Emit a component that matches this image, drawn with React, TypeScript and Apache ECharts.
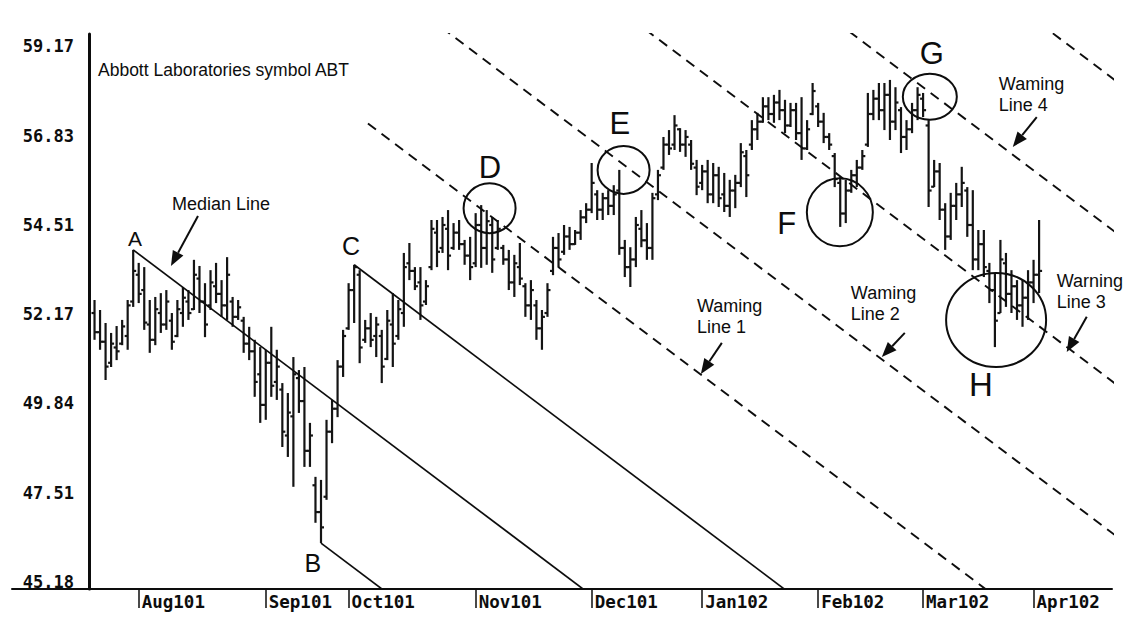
import React, { useEffect, useRef } from "react";
import * as echarts from "echarts";

// ---------- axis ticks ----------
const monthTickIndex = [9, 32, 47, 70, 91, 111, 132, 151, 171];
const monthLabels = ["Aug101", "Sep101", "Oct101", "Nov101", "Dec101", "Jan102", "Feb102", "Mar102", "Apr102"];
const priceTicks = [45.18, 47.51, 49.84, 52.17, 54.51, 56.83, 59.17];

// ---------- daily OHLC (trading day 1..172) ----------
const opens = [
  52.2, 51.7, 51.45, 50.9, 51.3, 51.4, 51.6, 52.5, 53.2, 52.8,
  51.9, 51.5, 52.2, 51.9, 52.0, 51.6, 52.2, 52.5, 52.3, 53.1,
  52.5, 52.4, 52.9, 52.7, 52.4, 52.5, 52.1, 52.0, 51.4, 51.2,
  50.6, 49.8, 50.9, 50.4, 50.2, 49.0, 49.5, 50.5, 49.9, 48.6,
  47.7, 47.0, 47.4, 49.1, 49.7, 50.8, 51.8, 52.8, 53.2, 51.5,
  51.8, 51.6, 51.6, 51.0, 51.9, 51.6, 52.2, 53.5, 53.3, 53.0,
  52.5, 53.4, 54.3, 53.9, 54.4, 53.9, 54.3, 54.0, 53.7, 53.5,
  54.5, 53.9, 54.5, 53.9, 53.9, 53.6, 53.0, 53.4, 52.9, 52.4,
  52.4, 51.8, 52.2, 53.3, 53.9, 53.8, 54.2, 54.0, 54.3, 54.7,
  54.9, 55.3, 54.9, 55.2, 55.0, 55.4, 53.9, 53.4, 53.6, 54.4,
  54.1, 53.9, 55.3, 56.0, 56.6, 56.6, 57.0, 56.6, 56.6, 56.0,
  55.6, 55.9, 55.3, 55.8, 55.3, 55.0, 55.4, 55.6, 56.3, 56.6,
  57.0, 57.2, 57.6, 57.4, 57.7, 57.5, 57.1, 57.5, 56.9, 56.5,
  57.4, 57.6, 57.2, 56.8, 56.3, 55.6, 54.8, 55.4, 55.8, 56.0,
  56.6, 57.4, 57.8, 57.5, 57.9, 57.2, 57.5, 56.8, 57.0, 57.5,
  57.8, 57.1, 55.5, 55.9, 54.9, 54.2, 55.0, 55.3, 55.4, 54.5,
  53.6, 54.0, 53.3, 52.8, 52.2, 53.5, 52.7, 52.9, 52.4, 52.6,
  53.0, 53.2,
];
const highs = [
  52.54, 52.28, 51.94, 51.68, 51.86, 52.02, 52.54, 53.85, 53.51, 53.4,
  52.54, 52.62, 52.72, 52.8, 52.2, 52.54, 52.88, 52.8, 53.59, 53.43,
  52.98, 53.32, 53.51, 53.06, 53.66, 52.62, 52.54, 52.1, 51.84, 51.5,
  51.31, 51.24, 51.84, 51.24, 50.37, 50.11, 51.05, 50.71, 50.79, 49.33,
  47.92, 47.84, 49.41, 49.93, 50.97, 51.76, 52.98, 53.46, 53.32, 52.02,
  52.2, 52.1, 51.76, 52.28, 52.72, 52.54, 53.77, 54.03, 53.4, 53.4,
  53.06, 54.63, 54.63, 54.71, 54.89, 54.55, 54.63, 54.11, 54.19, 54.81,
  55.02, 54.89, 54.71, 54.63, 53.98, 53.85, 53.72, 54.03, 52.98, 53.06,
  52.54, 52.28, 52.98, 54.19, 54.29, 54.5, 54.45, 54.37, 54.89, 55.07,
  56.12, 55.41, 55.34, 55.41, 55.54, 55.94, 54.11, 53.92, 54.71, 54.89,
  54.55, 55.34, 55.94, 56.8, 56.98, 57.37, 57.03, 56.98, 56.72, 56.2,
  56.07, 56.2, 56.12, 56.02, 55.86, 55.68, 55.81, 56.64, 56.46, 57.24,
  57.43, 57.84, 57.84, 57.9, 58.03, 57.77, 57.69, 57.69, 57.84, 57.24,
  58.21, 57.69, 57.43, 56.9, 56.38, 55.75, 55.68, 55.94, 56.2, 56.46,
  57.95, 58.03, 58.21, 58.21, 58.29, 58.1, 57.58, 57.24, 57.69, 58.1,
  57.95, 57.24, 56.2, 56.12, 55.07, 55.34, 55.6, 56.02, 55.49, 55.41,
  54.37, 54.37, 53.51, 53.25, 54.11, 53.77, 53.32, 53.06, 53.06, 53.32,
  53.59, 54.63,
];
const lows = [
  51.5, 51.24, 50.45, 50.79, 50.97, 51.36, 51.24, 52.36, 52.46, 51.76,
  51.16, 51.36, 51.68, 51.76, 51.24, 51.57, 51.84, 52.02, 52.28, 52.2,
  51.57, 52.28, 52.46, 52.1, 52.02, 51.84, 52.02, 51.16, 50.97, 50.01,
  49.33, 49.41, 50.01, 49.93, 48.7, 48.44, 47.66, 49.59, 48.18, 48.18,
  46.72, 46.19, 47.32, 48.8, 49.48, 50.53, 51.76, 51.94, 50.89, 51.42,
  51.31, 51.05, 50.37, 50.97, 50.79, 51.5, 51.84, 53.06, 52.8, 52.02,
  52.41, 53.32, 53.4, 53.77, 53.32, 53.85, 53.85, 53.46, 53.06, 53.4,
  53.38, 53.46, 53.25, 53.85, 53.46, 52.8, 52.62, 52.93, 52.1, 52.02,
  51.5, 51.24, 52.1, 53.19, 53.4, 53.72, 53.85, 53.98, 54.11, 54.55,
  54.81, 54.63, 54.63, 54.76, 54.76, 53.72, 53.14, 52.88, 53.4, 53.92,
  53.59, 53.59, 55.15, 55.94, 56.33, 56.46, 56.41, 56.28, 55.94, 55.28,
  55.41, 55.07, 55.07, 54.97, 54.84, 54.71, 54.94, 55.49, 55.23, 56.46,
  56.72, 57.17, 57.24, 57.17, 57.24, 56.9, 57.06, 56.72, 56.2, 56.46,
  57.37, 57.06, 56.64, 56.46, 55.49, 54.45, 54.55, 55.34, 55.49, 55.94,
  56.54, 57.24, 57.24, 56.98, 56.72, 56.98, 56.38, 56.46, 56.9, 57.24,
  57.32, 54.97, 55.49, 54.63, 53.85, 54.11, 54.63, 54.97, 54.19, 53.32,
  53.32, 53.14, 52.46, 51.31, 52.2, 52.36, 52.2, 52.02, 51.84, 52.02,
  52.46, 52.72,
];
const closes = [
  51.7, 51.45, 50.8, 51.4, 51.2, 51.85, 52.4, 53.3, 52.7, 51.95,
  51.5, 52.3, 51.9, 52.5, 51.45, 52.3, 52.6, 52.2, 53.2, 52.5,
  51.9, 53.0, 52.7, 52.4, 53.2, 52.1, 52.35, 51.4, 51.2, 50.4,
  49.8, 50.9, 50.3, 50.8, 49.1, 49.6, 50.6, 49.9, 48.6, 49.0,
  47.0, 46.6, 49.1, 49.7, 50.8, 51.6, 52.8, 53.4, 51.3, 51.8,
  51.5, 51.9, 50.8, 52.0, 51.4, 52.3, 53.4, 53.3, 52.9, 52.4,
  52.9, 54.4, 53.8, 54.5, 53.7, 54.3, 54.0, 53.7, 53.4, 54.5,
  53.9, 54.6, 53.6, 54.4, 53.6, 53.0, 53.5, 53.1, 52.4, 52.8,
  51.8, 52.1, 52.8, 53.9, 53.6, 54.2, 54.0, 54.3, 54.7, 54.9,
  55.6, 54.9, 55.2, 55.0, 55.3, 53.9, 53.4, 53.6, 54.5, 54.1,
  53.9, 55.2, 55.8, 56.6, 56.5, 57.1, 56.6, 56.8, 56.1, 55.5,
  55.9, 55.3, 55.8, 55.2, 55.0, 55.4, 55.6, 56.4, 55.8, 57.0,
  57.2, 57.6, 57.4, 57.7, 57.5, 57.1, 57.5, 56.9, 56.5, 57.0,
  58.0, 57.2, 56.8, 56.6, 55.7, 54.8, 55.4, 55.8, 56.0, 56.3,
  57.4, 57.8, 57.5, 57.9, 57.2, 57.7, 56.8, 57.0, 57.5, 57.9,
  57.5, 55.4, 55.9, 54.9, 54.2, 55.0, 55.3, 55.6, 54.5, 53.6,
  54.0, 53.4, 52.8, 52.0, 53.6, 52.7, 52.9, 52.4, 52.6, 53.0,
  53.2, 53.3,
];

// ---------- pitchfork pivots (trading day, price) ----------
const pivotA = [8, 53.85];
const pivotB = [42, 46.19];
const pivotC = [48, 53.46];
const warningLevels = [2, 3, 4, 5, 6];
const warningStarts = [50.5, 0, 0, 0, 0];

// ---------- annotations (data coordinates) ----------
const circleMarks = [
  { x: 72.52, y: 54.94, rx: 26, ry: 25 },
  { x: 96.78, y: 55.94, rx: 26, ry: 24 },
  { x: 135.93, y: 54.83, rx: 33, ry: 34 },
  { x: 152.22, y: 57.85, rx: 27, ry: 23 },
  { x: 164.22, y: 52.02, rx: 50, ry: 47 },
];
const letterMarks = [
  { t: "A", x: 8.33, y: 54.16, size: 21 },
  { t: "B", x: 40.54, y: 45.67, size: 25 },
  { t: "C", x: 47.42, y: 53.95, size: 25 },
  { t: "D", x: 72.58, y: 55.99, size: 31 },
  { t: "E", x: 96.11, y: 57.14, size: 31 },
  { t: "F", x: 126.33, y: 54.55, size: 31 },
  { t: "G", x: 152.58, y: 58.97, size: 31 },
  { t: "H", x: 161.45, y: 50.32, size: 33 },
];
const noteMarks = [
  { t: "Median Line", x: 15.02, y: 55.31 },
  { t: "Waming\nLine 1", x: 110.05, y: 52.65 },
  { t: "Waming\nLine 2", x: 137.92, y: 53.01 },
  { t: "Warning\nLine 3", x: 175.2, y: 53.3 },
  { t: "Waming\nLine 4", x: 164.71, y: 58.47 },
];
const arrowMarks = [
  [19.73, 54.735, 14.84, 53.43],
  [114.57, 51.42, 110.77, 50.61],
  [147.69, 51.68, 143.53, 51.05],
  [180.63, 52.1, 177.01, 51.18],
  [171.58, 57.32, 167.24, 56.54],
];

const INK = "#0d0d0d";
const SANS = "Liberation Sans, Arial, sans-serif";
const MONO = "DejaVu Sans Mono, monospace";

function buildOption() {
  const ohlc = highs.map((h, k) => [k + 1, opens[k], closes[k], lows[k], h]);

  const midX = (pivotB[0] + pivotC[0]) / 2;
  const midY = (pivotB[1] + pivotC[1]) / 2;
  const slope = (midY - pivotA[1]) / (midX - pivotA[0]);
  const median = (x: number) => pivotA[1] + slope * (x - pivotA[0]);
  const spacing = pivotC[1] - median(pivotC[0]);
  const X_END = 200;
  const seg = (k: number, x0: number) => [
    [x0, median(x0) + k * spacing],
    [X_END, median(X_END) + k * spacing],
  ];

  const fork: any[] = [];
  const solid = [
    { k: 0, x0: pivotA[0] },
    { k: 1, x0: pivotC[0] },
    { k: -1, x0: pivotB[0] },
  ];
  solid.forEach((s) =>
    fork.push({
      type: "line",
      data: seg(s.k, s.x0),
      symbol: "none",
      clip: true,
      silent: true,
      z: 3,
      lineStyle: { color: INK, width: 1.7 },
    })
  );
  warningLevels.forEach((k, j) =>
    fork.push({
      type: "line",
      data: seg(k, warningStarts[j]),
      symbol: "none",
      clip: true,
      silent: true,
      z: 3,
      lineStyle: { color: INK, width: 1.9, type: [10, 7] },
    })
  );

  return {
    animation: false,
    backgroundColor: "#fff",
    title: {
      text: "Abbott Laboratories symbol ABT",
      left: 93,
      top: 56,
      textStyle: { fontFamily: SANS, fontSize: 17.5, fontWeight: "normal", color: INK },
    },
    grid: { left: 12, right: 18, top: 34, bottom: 28, outerBoundsMode: "none" },
    xAxis: {
      type: "value",
      min: -13.94,
      max: 185.2,
      axisLine: { show: true, onZero: false, lineStyle: { color: INK, width: 2 } },
      axisTick: {
        show: true,
        customValues: monthTickIndex,
        length: 19,
        lineStyle: { color: INK, width: 1.5 },
      },
      axisLabel: {
        customValues: monthTickIndex,
        formatter: (v: number) => monthLabels[monthTickIndex.indexOf(v)] ?? "",
        align: "left",
        padding: [0, 0, 0, 3],
        margin: 4,
        fontFamily: MONO,
        fontWeight: "bold",
        fontSize: 17.5,
        color: INK,
      },
      splitLine: { show: false },
    },
    yAxis: {
      type: "value",
      min: 44.99,
      max: 59.49,
      offset: -77,
      axisLine: { show: true, onZero: false, lineStyle: { color: INK, width: 3 } },
      axisTick: { show: false },
      axisLabel: {
        customValues: priceTicks,
        formatter: (v: number) => v.toFixed(2),
        margin: 15,
        fontFamily: MONO,
        fontWeight: "bold",
        fontSize: 17,
        color: INK,
      },
      splitLine: { show: false },
    },
    series: [
      {
        type: "custom",
        name: "ABT",
        data: ohlc,
        encode: { x: 0, y: [1, 2, 3, 4] },
        z: 2,
        silent: true,
        renderItem: (_p: any, api: any) => {
          const x = api.value(0);
          const pH = api.coord([x, api.value(4)]);
          const pL = api.coord([x, api.value(3)]);
          const pO = api.coord([x, api.value(1)]);
          const pC = api.coord([x, api.value(2)]);
          const st = { stroke: "#141414", lineWidth: 2.2 };
          return {
            type: "group",
            children: [
              { type: "line", shape: { x1: pH[0], y1: pH[1], x2: pL[0], y2: pL[1] }, style: st },
              { type: "line", shape: { x1: pO[0] - 3, y1: pO[1], x2: pO[0], y2: pO[1] }, style: st },
              { type: "line", shape: { x1: pC[0], y1: pC[1], x2: pC[0] + 3, y2: pC[1] }, style: st },
            ],
          };
        },
      },
      ...fork,
      {
        type: "custom",
        data: circleMarks.map((c) => [c.x, c.y]),
        z: 4,
        silent: true,
        renderItem: (p: any, api: any) => {
          const c = circleMarks[p.dataIndex];
          const pt = api.coord([api.value(0), api.value(1)]);
          return {
            type: "ellipse",
            shape: { cx: pt[0], cy: pt[1], rx: c.rx, ry: c.ry },
            style: { fill: "none", stroke: INK, lineWidth: 2 },
          };
        },
      },
      {
        type: "custom",
        data: letterMarks.map((m) => [m.x, m.y]),
        z: 4,
        silent: true,
        renderItem: (p: any, api: any) => {
          const m = letterMarks[p.dataIndex];
          const pt = api.coord([api.value(0), api.value(1)]);
          return {
            type: "text",
            x: pt[0],
            y: pt[1],
            style: {
              text: m.t,
              fill: INK,
              fontFamily: SANS,
              fontSize: m.size,
              align: "center",
              verticalAlign: "middle",
            },
          };
        },
      },
      {
        type: "custom",
        data: noteMarks.map((m) => [m.x, m.y]),
        z: 4,
        silent: true,
        renderItem: (p: any, api: any) => {
          const m = noteMarks[p.dataIndex];
          const pt = api.coord([api.value(0), api.value(1)]);
          return {
            type: "text",
            x: pt[0],
            y: pt[1],
            style: {
              text: m.t,
              fill: INK,
              fontFamily: SANS,
              fontSize: 18,
              lineHeight: 21,
              align: "left",
              verticalAlign: "top",
            },
          };
        },
      },
      {
        type: "custom",
        data: arrowMarks,
        encode: { x: [0, 2], y: [1, 3] },
        z: 4,
        silent: true,
        renderItem: (_p: any, api: any) => {
          const t = api.coord([api.value(0), api.value(1)]);
          const h = api.coord([api.value(2), api.value(3)]);
          const dx = h[0] - t[0];
          const dy = h[1] - t[1];
          const len = Math.hypot(dx, dy) || 1;
          const ux = dx / len;
          const uy = dy / len;
          const hl = 15;
          const hw = 6;
          const bx = h[0] - ux * hl;
          const by = h[1] - uy * hl;
          return {
            type: "group",
            children: [
              { type: "line", shape: { x1: t[0], y1: t[1], x2: bx, y2: by }, style: { stroke: INK, lineWidth: 2 } },
              {
                type: "polygon",
                shape: {
                  points: [
                    [h[0], h[1]],
                    [bx - uy * hw, by + ux * hw],
                    [bx + uy * hw, by - ux * hw],
                  ],
                },
                style: { fill: INK },
              },
            ],
          };
        },
      },
    ],
  };
}

export default function App() {
  const ref = useRef<HTMLDivElement | null>(null);
  useEffect(() => {
    if (!ref.current) return;
    const chart = echarts.init(ref.current, undefined, { renderer: "svg" });
    chart.setOption(buildOption() as any);
    return () => chart.dispose();
  }, []);
  return (
    <div
      ref={ref}
      style={{ position: "fixed", left: 0, top: 0, width: 1130, height: 617, background: "#fff" }}
    />
  );
}
